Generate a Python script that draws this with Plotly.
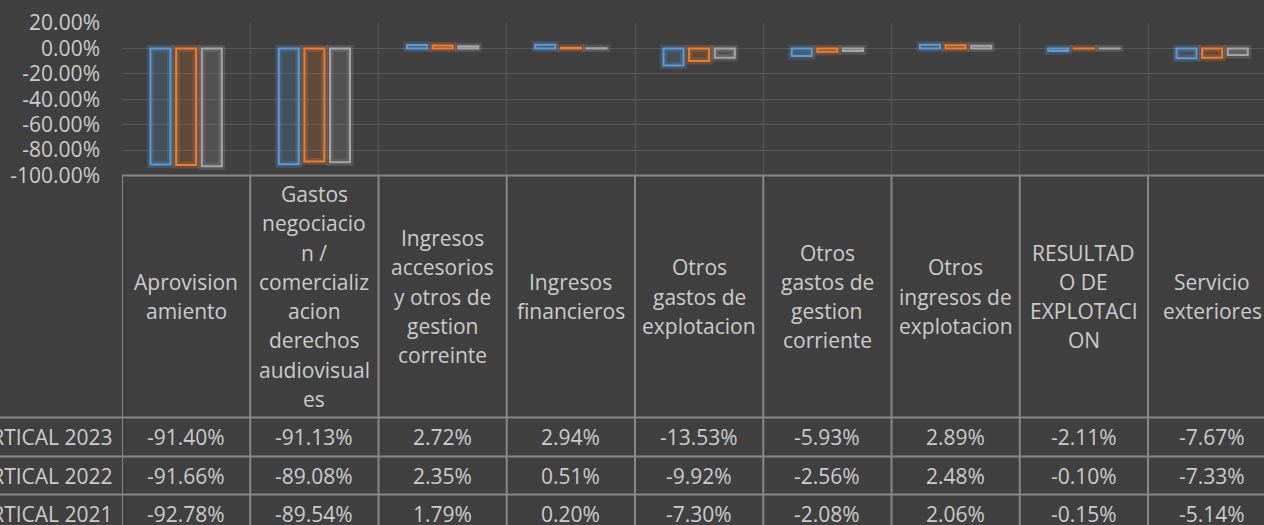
import plotly.graph_objects as go

# datos
categorias = ["Aprovisionamiento", "Gastos negociacion / comercializacion derechos audiovisuales",
              "Ingresos accesorios y otros de gestion correinte", "Ingresos financieros",
              "Otros gastos de explotacion", "Otros gastos de gestion corriente",
              "Otros ingresos de explotacion", "RESULTADO DE EXPLOTACION", "Servicio exteriores"]
etiquetas = ["Aprovision<br>amiento",
             "Gastos<br>negociacio<br>n /<br>comercializ<br>acion<br>derechos<br>audiovisual<br>es",
             "Ingresos<br>accesorios<br>y otros de<br>gestion<br>correinte",
             "Ingresos<br>financieros",
             "Otros<br>gastos de<br>explotacion",
             "Otros<br>gastos de<br>gestion<br>corriente",
             "Otros<br>ingresos de<br>explotacion",
             "RESULTAD<br>O DE<br>EXPLOTACI<br>ON",
             "Servicio<br>exteriores"]
series = ["VERTICAL 2023", "VERTICAL 2022", "VERTICAL 2021"]
v2023 = [-0.9140, -0.9113, 0.0272, 0.0294, -0.1353, -0.0593, 0.0289, -0.0211, -0.0767]
v2022 = [-0.9166, -0.8908, 0.0235, 0.0051, -0.0992, -0.0256, 0.0248, -0.0010, -0.0733]
v2021 = [-0.9278, -0.8954, 0.0179, 0.0020, -0.0730, -0.0208, 0.0206, -0.0015, -0.0514]
valores = [v2023, v2022, v2021]
ticks_y = [0.2, 0.0, -0.2, -0.4, -0.6, -0.8, -1.0]
colores = [(91, 155, 213), (237, 125, 49), (165, 165, 165)]

W, H = 1264, 525
L, T = 122, 23
TOP_TABLA = 175.5
FILAS_Y = [417.5, 456.5, 494.5, 532.5]
ANCHO_CAT = 128.25
FUENTE = "Open Sans"
TAM = 21
TXT = "#cccccc"
LINEA = "#878787"
BG = "#404040"


def py(ypx):
    return (H - ypx) / (H - T)


def px(xpx):
    return (xpx - L) / (W - L)


def pct(v):
    return ("%.2f%%" % (v * 100)).replace("-0.00", "0.00")


fig = go.Figure()

# brillo (glow) debajo de cada barra
for nombre, vals, c in zip(series, valores, colores):
    fig.add_trace(go.Bar(x=categorias, y=vals, offsetgroup=nombre, showlegend=False, hoverinfo="skip",
                         marker=dict(color="rgba(%d,%d,%d,0.10)" % c,
                                     line=dict(color="rgba(%d,%d,%d,0.22)" % c, width=7))))
for nombre, vals, c in zip(series, valores, colores):
    fig.add_trace(go.Bar(x=categorias, y=vals, name=nombre, offsetgroup=nombre, showlegend=False,
                         marker=dict(color="rgba(%d,%d,%d,0.08)" % c,
                                     line=dict(color="rgb(%d,%d,%d)" % c, width=2))))

fig.update_layout(
    width=W, height=H, barmode="group", bargap=0.4, bargroupgap=0.22,
    paper_bgcolor=BG, plot_bgcolor=BG,
    margin=dict(l=L, r=0, t=T, b=0, autoexpand=False),
    font=dict(family=FUENTE, size=TAM, color=TXT),
    xaxis=dict(type="category", range=[-0.5, -0.5 + (W - L) / ANCHO_CAT], tickson="boundaries",
               showgrid=True, gridcolor="#595959", gridwidth=1, showticklabels=False, ticks="",
               showline=False, zeroline=False),
    yaxis=dict(domain=[py(TOP_TABLA), 1], range=[-1.0, 0.2],
               tickvals=ticks_y, ticktext=[pct(t) for t in ticks_y],
               showgrid=True, gridcolor="#595959", gridwidth=1, zeroline=True, zerolinecolor="#595959",
               zerolinewidth=1, ticks="", ticklabelstandoff=21, showline=False,
               tickfont=dict(family=FUENTE, size=TAM, color=TXT)),
)

# tabla de datos
shapes = []
shapes.append(dict(type="line", xref="paper", yref="paper", x0=0, x1=1,
                   y0=py(TOP_TABLA), y1=py(TOP_TABLA), line=dict(color=LINEA, width=2)))
for yl in FILAS_Y[:3]:
    shapes.append(dict(type="line", xref="paper", yref="paper", x0=px(0), x1=1,
                       y0=py(yl), y1=py(yl), line=dict(color=LINEA, width=2)))
for i in range(len(categorias)):
    shapes.append(dict(type="line", xref="x", yref="paper", x0=i - 0.5, x1=i - 0.5,
                       y0=py(TOP_TABLA), y1=0, line=dict(color=LINEA, width=2)))
fig.update_layout(shapes=shapes)

anots = []
paso = 29.3
centro = (TOP_TABLA + FILAS_Y[0]) / 2
for i, et in enumerate(etiquetas):
    lineas = et.split("<br>")
    n = len(lineas)
    for k, ln in enumerate(lineas):
        yc = centro + (k - (n - 1) / 2) * paso
        anots.append(dict(x=i, y=py(yc), xref="x", yref="paper", text=ln, showarrow=False,
                          xanchor="center", yanchor="middle", font=dict(size=TAM, color=TXT)))
for r, (nombre, vals) in enumerate(zip(series, valores)):
    yc = (FILAS_Y[r] + FILAS_Y[r + 1]) / 2
    anots.append(dict(x=px(115), y=py(yc), xref="paper", yref="paper", text=nombre, showarrow=False,
                      xanchor="right", yanchor="middle", font=dict(size=TAM, color=TXT)))
    for i, v in enumerate(vals):
        anots.append(dict(x=i, y=py(yc), xref="x", yref="paper", text=pct(v),
                          showarrow=False, xanchor="center", yanchor="middle",
                          font=dict(size=TAM, color=TXT)))
fig.update_layout(annotations=anots)

fig.write_html("out.html", config={"displayModeBar": False},
               post_script="document.body.style.margin='0';")
